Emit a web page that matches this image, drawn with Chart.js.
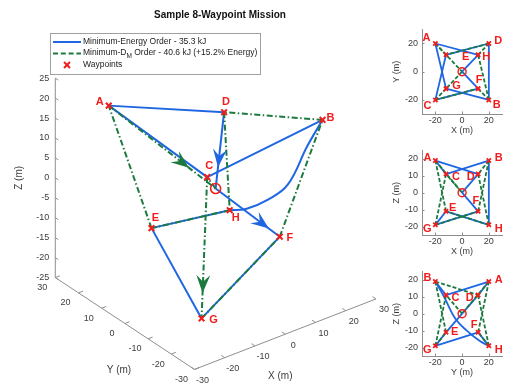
<!DOCTYPE html>
<html>
<head>
<meta charset="utf-8">
<script src="https://cdn.jsdelivr.net/npm/chart.js@4.4.1/dist/chart.umd.min.js"></script>
<style>
  html, body { margin: 0; padding: 0; background: #fff; }
  #wrap { position: relative; width: 508px; height: 388px; overflow: hidden; }
  #wrap canvas { position: absolute; display: block; }
</style>
</head>
<body>
<div id="wrap">
  <canvas id="main" width="440" height="388" style="left:0;top:0"></canvas>
  <canvas id="xy" width="128" height="120" style="left:380px;top:20px"></canvas>
  <canvas id="xz" width="128" height="120" style="left:380px;top:141px"></canvas>
  <canvas id="yz" width="128" height="120" style="left:380px;top:262px"></canvas>
</div>
<script>
// waypoints A..H (metres) and the depot O
const names = ['A', 'B', 'C', 'D', 'E', 'F', 'G', 'H'];
const wpX = [-20, 20, -12, 12, -12, 12, -20, 20];
const wpY = [20, -20, -12, 12, 12, -12, -20, 20];
const wpZ = [19, 19, 11, 11, -11, -11, -19, -19];
const depotXYZ = [0, 0, 0];

// visiting orders
const energyOrder = ['O', 'F', 'G', 'E', 'H', 'B', 'C', 'A', 'D', 'O'];
const dmOrder = ['O', 'C', 'G', 'F', 'B', 'D', 'H', 'E', 'A', 'O'];

const bendX = [20, 20, 20, 20];
const bendY = [13, 3.5, -5, -13.5];
const bendZ = [-16, -10, -3, 10];

const energyKJ = [35.3, 40.6];
const dmExtraPct = 15.2;

// axis ticks
const xTicks = [-30, -20, -10, 0, 10, 20, 30];
const yTicks = [-30, -20, -10, 0, 10, 20, 30];
const zTicks = [-25, -20, -15, -10, -5, 0, 5, 10, 15, 20, 25];
const insetXTicks = [-20, 0, 20];
const insetYTicks = [-20, 0, 20];
const insetZTicks = [-20, -10, 0, 10, 20];

// inset label letters (as they appear in each small view)
const xyTags = ['A', 'B', 'G', 'H', 'E', 'F', 'C', 'D'];
const xzTags = ['A', 'B', 'C', 'D', 'E', 'F', 'G', 'H'];
const yzTags = ['A', 'B', 'C', 'D', 'F', 'E', 'G', 'H'];

const RED = '#f11c1c', BLUE = '#1f66e2', GREEN = '#1c7a3e', AXIS = '#8e8e8e', TXT = '#3c3c3c';
const FONT = "'Liberation Sans', Arial, Helvetica, sans-serif";
const GDASH = [6, 2.5, 1.5, 2.5];
Chart.defaults.font.family = FONT;

function wp(n) {
  if (n === 'O') return depotXYZ;
  const i = names.indexOf(n);
  return [wpX[i], wpY[i], wpZ[i]];
}
const energyBends = { HB: bendX.map((x, k) => [x, bendY[k], bendZ[k]]) };

function legsOf(order, bends) {
  const legs = [];
  for (let i = 0; i < order.length - 1; i++) {
    const mid = bends[order[i] + order[i + 1]] || [];
    legs.push({ pts: [wp(order[i]), ...mid, wp(order[i + 1])], curved: mid.length > 0 });
  }
  return legs;
}
const energyLegs = legsOf(energyOrder, energyBends);
const dmLegs = legsOf(dmOrder, {});

// --- main 3D view: az -37.5, el 30 ---
const AZ = -37.5 * Math.PI / 180, EL = 30 * Math.PI / 180;
const KXY = 3.93, KZ = 4.69, CX = 215.5, CY = 191.6;
function proj(p) {
  const h = p[0] * Math.cos(AZ) + p[1] * Math.sin(AZ);
  const v = (-p[0] * Math.sin(AZ) + p[1] * Math.cos(AZ)) * Math.sin(EL);
  return { x: CX + KXY * h, y: CY - KXY * v - KZ * p[2] * Math.cos(EL) };
}

function lineSet(pts, color, dash, curved, toXY, width) {
  return {
    data: pts.map(toXY), showLine: true, borderColor: color, backgroundColor: color,
    borderWidth: width, borderDash: dash, pointRadius: 0, tension: curved ? 0.4 : 0,
    fill: false, clip: false
  };
}

function markerSets(toXY, r, bw) {
  return [
    { data: [toXY(depotXYZ)], pointStyle: 'circle', pointRadius: r + 1, borderColor: RED,
      backgroundColor: 'rgba(0,0,0,0)', pointBorderWidth: bw * 0.8, clip: false },
    { data: names.map(n => toXY(wp(n))), pointStyle: 'crossRot', pointRadius: r,
      borderColor: RED, pointBorderWidth: bw, clip: false }
  ];
}

function allSets(toXY, w, dash, r, bw) {
  return [
    ...markerSets(toXY, r, bw),
    ...dmLegs.map(l => lineSet(l.pts, GREEN, dash, l.curved, toXY, w)),
    ...energyLegs.map(l => lineSet(l.pts, BLUE, [], l.curved, toXY, w))
  ];
}

const arrows = [
  { order: energyOrder, leg: 0, at: 0.83, color: BLUE },
  { order: energyOrder, leg: 8, at: 0.72, color: BLUE },
  { order: dmOrder, leg: 1, at: 0.82, color: GREEN },
  { order: dmOrder, leg: 8, at: 0.75, color: GREEN }
];
const mainTagDx = [-9, 8, 2, 2, 4, 10, 12, 6];
const mainTagDy = [-4, -2, -11, -10, -10, 1, 2, 8];

function seg(ctx, a, b) {
  ctx.beginPath(); ctx.moveTo(a.x, a.y); ctx.lineTo(b.x, b.y); ctx.stroke();
}

const axes3d = {
  id: 'axes3d',
  beforeDatasetsDraw(chart) {
    const ctx = chart.ctx, sx = chart.scales.x, sy = chart.scales.y;
    const P = p => { const q = proj(p); return { x: sx.getPixelForValue(q.x), y: sy.getPixelForValue(q.y) }; };
    const x0 = xTicks[0], x1 = xTicks[xTicks.length - 1];
    const y0 = yTicks[0], y1 = yTicks[yTicks.length - 1];
    const z0 = zTicks[0], z1 = zTicks[zTicks.length - 1];
    ctx.save();
    ctx.strokeStyle = AXIS; ctx.lineWidth = 1;
    seg(ctx, P([x0, y0, z0]), P([x1, y0, z0]));
    seg(ctx, P([x0, y0, z0]), P([x0, y1, z0]));
    seg(ctx, P([x0, y1, z0]), P([x0, y1, z1]));
    xTicks.forEach(v => seg(ctx, P([v, y0, z0]), P([v, y0 + 1.5, z0])));
    yTicks.forEach(v => seg(ctx, P([x0, v, z0]), P([x0 + 1.5, v, z0])));
    zTicks.forEach(v => seg(ctx, P([x0, y1, v]), P([x0, y1 - 1.3, v])));
    ctx.fillStyle = TXT; ctx.font = '9px ' + FONT;
    ctx.textAlign = 'center'; ctx.textBaseline = 'middle';
    xTicks.forEach(v => { const p = P([v, y0, z0]); ctx.fillText(String(v), p.x + 8, p.y + 11); });
    yTicks.forEach(v => { const p = P([x0, v, z0]); ctx.fillText(String(v), p.x - 13, p.y + 10); });
    ctx.textAlign = 'right';
    zTicks.forEach(v => { const p = P([x0, y1, v]); ctx.fillText(String(v), p.x - 6, p.y); });
    ctx.font = '10px ' + FONT; ctx.textAlign = 'center';
    let p = P([0, y0, z0]); ctx.fillText('X (m)', p.x - 5, p.y + 42);
    p = P([x0, 0, z0]); ctx.fillText('Y (m)', p.x - 6, p.y + 47);
    p = P([x0, y1, 0]);
    ctx.translate(19, p.y); ctx.rotate(-Math.PI / 2); ctx.fillText('Z (m)', 0, 0);
    ctx.restore();
  },
  afterDatasetsDraw(chart) {
    const ctx = chart.ctx, sx = chart.scales.x, sy = chart.scales.y;
    const P = p => { const q = proj(p); return { x: sx.getPixelForValue(q.x), y: sy.getPixelForValue(q.y) }; };
    ctx.save();
    arrows.forEach(a => {
      const p0 = P(wp(a.order[a.leg])), p1 = P(wp(a.order[a.leg + 1]));
      const dx = p1.x - p0.x, dy = p1.y - p0.y, len = Math.hypot(dx, dy);
      const ux = dx / len, uy = dy / len, nx = -uy, ny = ux;
      const tx = p0.x + dx * a.at, ty = p0.y + dy * a.at, L = 18, W = 7;
      ctx.fillStyle = a.color;
      ctx.beginPath();
      ctx.moveTo(tx, ty);
      ctx.lineTo(tx - L * ux + W * nx, ty - L * uy + W * ny);
      ctx.lineTo(tx - 0.62 * L * ux, ty - 0.62 * L * uy);
      ctx.lineTo(tx - L * ux - W * nx, ty - L * uy - W * ny);
      ctx.closePath(); ctx.fill();
    });
    ctx.fillStyle = RED; ctx.font = 'bold 11px ' + FONT;
    ctx.textAlign = 'center'; ctx.textBaseline = 'middle';
    names.forEach((n, i) => { const p = P(wp(n)); ctx.fillText(n, p.x + mainTagDx[i], p.y + mainTagDy[i]); });
    ctx.restore();
  },
  afterDraw(chart) {
    const ctx = chart.ctx;
    ctx.save();
    ctx.fillStyle = '#fff'; ctx.fillRect(50.5, 33.5, 210, 41);
    ctx.strokeStyle = '#a0a0a0'; ctx.lineWidth = 1; ctx.strokeRect(50.5, 33.5, 210, 41);
    ctx.lineWidth = 2;
    ctx.strokeStyle = BLUE; seg(ctx, { x: 53, y: 42 }, { x: 81, y: 42 });
    ctx.strokeStyle = GREEN; ctx.setLineDash([5, 2.8]); seg(ctx, { x: 53, y: 53.5 }, { x: 81, y: 53.5 });
    ctx.setLineDash([]);
    ctx.strokeStyle = RED; ctx.lineWidth = 2;
    seg(ctx, { x: 64, y: 62 }, { x: 70, y: 68 }); seg(ctx, { x: 64, y: 68 }, { x: 70, y: 62 });
    ctx.fillStyle = '#1a1a1a'; ctx.font = '8.5px ' + FONT; ctx.textBaseline = 'middle'; ctx.textAlign = 'left';
    ctx.fillText('Minimum-Energy Order - ' + energyKJ[0].toFixed(1) + ' kJ', 83, 42);
    const s1 = 'Minimum-D';
    ctx.fillText(s1, 83, 53);
    let x = 83 + ctx.measureText(s1).width;
    ctx.font = '6.5px ' + FONT; ctx.fillText('M', x, 56.5);
    x += ctx.measureText('M').width;
    ctx.font = '8.5px ' + FONT;
    ctx.fillText(' Order - ' + energyKJ[1].toFixed(1) + ' kJ (+' + dmExtraPct.toFixed(1) + '% Energy)', x, 53);
    ctx.fillText('Waypoints', 83, 65);
    ctx.restore();
  }
};

new Chart(document.getElementById('main'), {
  type: 'scatter',
  data: { datasets: allSets(proj, 2, GDASH, 4, 2) },
  options: {
    responsive: false, animation: false, events: [],
    layout: { padding: 0 },
    plugins: {
      legend: { display: false }, tooltip: { enabled: false },
      title: { display: true, text: 'Sample 8-Waypoint Mission', color: '#111',
        font: { size: 10, weight: 'bold' }, padding: { top: 9, bottom: 0 } }
    },
    scales: {
      x: { type: 'linear', display: false, min: 0, max: 440 },
      y: { type: 'linear', display: false, min: 21, max: 388, reverse: true }
    }
  },
  plugins: [axes3d]
});

// --- the three flat views ---
function inset(id, ax, ay, yMin, yMax, yTicksArr, xTitle, yTitle, tags, dx, dy) {
  const toXY = p => ({ x: p[ax], y: p[ay] });
  const tagPlugin = {
    id: 'tags' + id,
    afterDraw(chart) {
      const { ctx, chartArea: a, scales: { x, y } } = chart;
      ctx.save();
      ctx.strokeStyle = AXIS; ctx.lineWidth = 1;
      x.ticks.forEach(t => { const px = Math.round(x.getPixelForValue(t.value)) + 0.5; seg(ctx, { x: px, y: a.bottom }, { x: px, y: a.bottom - 2.5 }); });
      y.ticks.forEach(t => { const py = Math.round(y.getPixelForValue(t.value)) + 0.5; seg(ctx, { x: a.left, y: py }, { x: a.left + 2.5, y: py }); });
      ctx.fillStyle = RED; ctx.font = 'bold 11px ' + FONT;
      ctx.textAlign = 'center'; ctx.textBaseline = 'middle';
      names.forEach((n, i) => {
        const q = toXY(wp(n));
        ctx.fillText(tags[i], x.getPixelForValue(q.x) + dx[i], y.getPixelForValue(q.y) + dy[i]);
      });
      ctx.restore();
    }
  };
  new Chart(document.getElementById(id), {
    type: 'scatter',
    data: { datasets: allSets(toXY, 1.8, [4, 2], 3, 1.8) },
    options: {
      responsive: false, animation: false, events: [],
      layout: { padding: { top: 7, right: 0, left: 0, bottom: 0 } },
      plugins: { legend: { display: false }, tooltip: { enabled: false } },
      scales: {
        x: {
          type: 'linear', min: -30, max: 30,
          afterBuildTicks: s => { s.ticks = insetXTicks.map(v => ({ value: v })); },
          afterFit: s => { s.height = 26; },
          grid: { display: false, drawTicks: false },
          border: { display: true, color: AXIS, width: 1 },
          ticks: { font: { size: 9 }, color: TXT, padding: 1, maxRotation: 0, autoSkip: false },
          title: { display: true, text: xTitle, font: { size: 9 }, color: TXT, padding: { top: 0, bottom: 4 } }
        },
        y: {
          type: 'linear', min: yMin, max: yMax,
          afterBuildTicks: s => { s.ticks = yTicksArr.map(v => ({ value: v })); },
          afterFit: s => { s.width = 42; },
          grid: { display: false, drawTicks: false },
          border: { display: true, color: AXIS, width: 1 },
          ticks: { font: { size: 9 }, color: TXT, padding: 4, autoSkip: false },
          title: { display: true, text: yTitle, font: { size: 9 }, color: TXT, padding: { top: 11, bottom: 0 } }
        }
      }
    },
    plugins: [tagPlugin]
  });
}

inset('xy', 0, 1, -30, 30, insetYTicks, 'X (m)', 'Y (m)', xyTags,
  [-9, 8, 10.5, 8, 19.5, 1, -8, 9.5], [-6, 5, -2.7, 2.4, 2, -8.4, 6, -2.7]);
inset('xz', 0, 2, -25, 25, insetZTicks, 'X (m)', 'Z (m)', xzTags,
  [-8, 10, 10, -7.4, 6.7, -2.4, -8, 10], [-3, -3, 2.4, 2.4, -3.3, -10, 4, 4]);
inset('yz', 1, 2, -25, 25, insetZTicks, 'Y (m)', 'Z (m)', yzTags,
  [10, -8, 9.4, -8.4, -4, 8.7, -8, 10], [-2, -3.6, 2.4, 2.4, -7.5, 0, 4.5, 4.5]);
</script>
</body>
</html>
